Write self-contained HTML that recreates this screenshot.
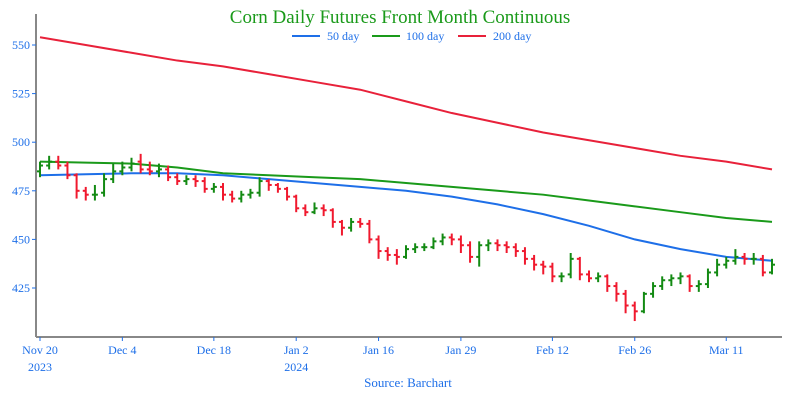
<!DOCTYPE html>
<html><head><meta charset="utf-8"><style>
body{margin:0;background:#fff;}
svg text{font-family:"Liberation Serif",serif;}
</style></head><body>
<svg id="chart" width="800" height="400" xmlns="http://www.w3.org/2000/svg">
<text x="400" y="23" text-anchor="middle" font-size="19" fill="#1a9a1a">Corn Daily Futures Front Month Continuous</text>
<g font-size="12">
<g><line x1="292" y1="36" x2="320" y2="36" stroke="#1e6fe8" stroke-width="2"/><text x="327" y="40" fill="#1e6fe8">50 day</text></g>
<g><line x1="372" y1="36" x2="400" y2="36" stroke="#1a9a1a" stroke-width="2"/><text x="406" y="40" fill="#1e6fe8">100 day</text></g>
<g><line x1="458" y1="36" x2="486" y2="36" stroke="#e8213a" stroke-width="2"/><text x="493" y="40" fill="#1e6fe8">200 day</text></g>
</g>
<line x1="36" y1="14" x2="36" y2="337" stroke="#888" stroke-width="2"/>
<line x1="36" y1="337" x2="782" y2="337" stroke="#888" stroke-width="2"/>
<g id="yticks"></g><g id="xticks"></g><g id="mas"></g><g id="bars"></g>
<text x="408" y="387" text-anchor="middle" font-size="13" fill="#1e6fe8">Source: Barchart</text>
</svg>
<script>
const closes=[488,490,488,483,475,473,473,481,485,487,489,486,485,486,482,480,481,480,476,477,473,471,473,474,480,478,476,472,466,464,466,465,459,456,459,458,450,444,442,441,445,446,446,449,451,450,447,441,447,448,447,446,444,440,437,436,431,431,440,432,430,431,426,422,416,413,422,426,429,430,431,426,427,433,437,439,441,440,440,433,437];
const opens=[485,488,490,488,483,475,473,474,481,485,487,490,486,485,486,482,480,481,480,476,477,473,471,473,474,480,478,476,472,466,464,466,465,459,456,459,458,450,444,442,441,445,446,446,449,451,450,447,441,447,448,447,446,444,440,437,436,431,432,440,432,430,431,426,422,416,413,422,426,429,430,431,426,427,433,437,439,441,440,440,433];
const highs=[490,493,493,490,484,477,478,484,489,490,492,494,490,489,488,484,483,483,482,479,479,475,475,476,482,481,479,477,473,468,469,468,466,460,461,461,460,452,446,445,447,448,448,451,453,453,452,449,449,450,450,449,448,446,442,439,438,433,443,441,434,433,432,428,424,418,423,428,431,432,433,432,429,435,440,441,445,443,443,442,440];
const lows=[482,486,486,481,471,470,470,472,479,483,485,484,483,482,480,478,478,477,474,474,470,469,469,471,472,475,474,470,464,462,463,462,456,452,454,456,448,440,439,437,440,443,444,445,447,447,443,438,436,444,444,443,441,437,434,432,428,428,430,429,428,428,423,418,412,408,412,420,424,426,427,423,423,425,431,435,437,437,437,431,432];
const maIdx=[0,5,10,15,20,25,30,35,40,45,50,55,60,65,70,75,80];
const ma50=[483,483.5,484,484,483,481,479,477,475,472,468,463,457,450,445,441,439];
const ma100=[490,489.5,489,487,484,483,482,481,479,477,475,473,470,467,464,461,459];
const ma200=[554,550,546,542,539,535,531,527,521,515,510,505,501,497,493,490,486];
const yTicks=[425,450,475,500,525,550];
const xLabels=[[0,"Nov 20","2023"],[9,"Dec 4",""],[19,"Dec 18",""],[28,"Jan 2","2024"],[37,"Jan 16",""],[46,"Jan 29",""],[56,"Feb 12",""],[65,"Feb 26",""],[75,"Mar 11",""]];
const NS="http://www.w3.org/2000/svg";
const yS=v=>288-(v-425)*48.6/25;
const xS=i=>40+9.15*i;
function mk(t,a,p){const e=document.createElementNS(NS,t);for(const k in a)e.setAttribute(k,a[k]);p.appendChild(e);return e;}
const yt=document.getElementById('yticks');
yTicks.forEach(v=>{const g=mk('g',{},yt);


mk('line',{x1:32,x2:36,y1:yS(v),y2:yS(v),stroke:'#1e6fe8'},g);
const t=mk('text',{x:30,y:yS(v)+4,'text-anchor':'end','font-size':12,fill:'#1e6fe8'},g);t.textContent=v;});
const xt=document.getElementById('xticks');
xLabels.forEach(([i,l,y])=>{const g=mk('g',{},xt);


mk('line',{x1:xS(i),x2:xS(i),y1:337,y2:341,stroke:'#1e6fe8'},g);
let t=mk('text',{x:xS(i),y:354,'text-anchor':'middle','font-size':12,fill:'#1e6fe8'},g);t.textContent=l;
if(y){t=mk('text',{x:xS(i),y:371,'text-anchor':'middle','font-size':12,fill:'#1e6fe8'},g);t.textContent=y;}});
const mg=document.getElementById('mas');
[[ma50,'#1e6fe8','ma-50-day'],[ma100,'#1a9a1a','ma-100-day'],[ma200,'#e8213a','ma-200-day']].forEach(([a,c,n])=>{
const p=mk('path',{d:a.map((v,k)=>(k?'L':'M')+xS(maIdx[k])+','+yS(v)).join(''),fill:'none',stroke:c,'stroke-width':2},mg);

});
const bg=document.getElementById('bars');
closes.forEach((c,i)=>{const col=c>=opens[i]?'#138a13':'#f0192e';const x=xS(i);
const g=mk('g',{stroke:col,'stroke-width':2},bg);


mk('line',{x1:x,x2:x,y1:yS(highs[i]),y2:yS(lows[i])},g);
mk('line',{x1:x-3,x2:x,y1:yS(opens[i]),y2:yS(opens[i])},g);
mk('line',{x1:x,x2:x+3,y1:yS(c),y2:yS(c)},g);});
</script>
</body></html>
